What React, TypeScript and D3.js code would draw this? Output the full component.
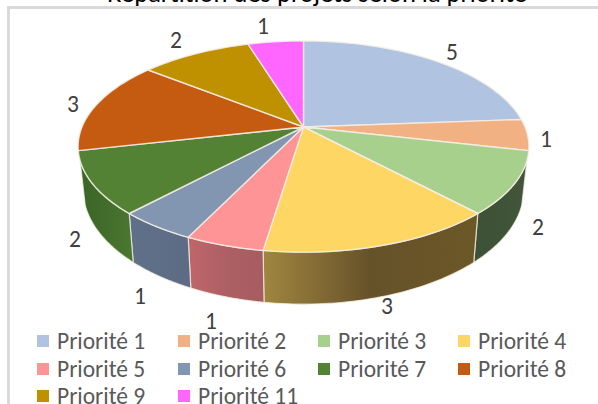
import React from "react";
import * as d3 from "d3";

const categories = ["Priorité 1","Priorité 2","Priorité 3","Priorité 4","Priorité 5","Priorité 6","Priorité 7","Priorité 8","Priorité 9","Priorité 11"];
const values = [5,1,2,3,1,1,2,3,2,1];
const topColors = ["#b0c4e2","#f2b183","#a8d08d","#fdd663","#ff9497","#8396b1","#548235","#c55a11","#bf9000","#ff66ff"];
const sideLeft = ["#7d8ba0","#ad7f5e","#3d5136","#a08640","#c0666a","#5f7088","#3b6526","#8c400c","#886600","#b548b5"];
const sideMid = ["#7d8ba0","#ad7f5e","#3f5338","#66522a","#ad6064","#5e6e86","#426c2a","#8c400c","#886600","#b548b5"];
const sideRight = ["#7d8ba0","#ad7f5e","#43563b","#6c5726","#a65c60","#5d6c84","#4a7630","#8c400c","#886600","#b548b5"];
const labelPos: [number, number][] = [[452,52],[546,139],[538,227],[387,306],[211,321],[140,296],[75,239],[73,104],[176,40],[263,26]];

const W = 598, H = 404;
const cx = 303.5, cy = 127, R = 221.5, S = 102, K = 0.185;
const FONT = "Carlito, 'Open Sans', 'Noto Sans', sans-serif";

const pie = d3.pie<number>().sort(null).value((d) => d)(values);
const toTop = (a: number): [number, number] => {
  const w = 1 + K * Math.cos(a);
  return [cx + (R * Math.sin(a)) / w, cy - (S * Math.cos(a)) / w];
};
const toBottom = (a: number): [number, number] => {
  const [x, y] = toTop(a);
  const dy = y - cy;
  return [cx + (x - cx) * 0.977, y + 42 + 0.08 * dy];
};
const samples = (a0: number, a1: number) => d3.range(0, 41).map((i) => a0 + ((a1 - a0) * i) / 40);
const line = d3.line();

const sideMin = (108 * Math.PI) / 180;
const sideMax = (252 * Math.PI) / 180;

const legendX = [37, 178, 318, 458];
const legendY = [341, 369, 396];

export default function App() {
  return (
    <svg width={W} height={H} style={{ position: "absolute", left: 0, top: 0, background: "#fff" }}>
      <defs>
        {pie.map((p, i) => {
          const a0 = Math.max(p.startAngle, sideMin);
          const a1 = Math.min(p.endAngle, sideMax);
          if (a1 <= a0) return null;
          const x0 = toTop(a0)[0], x1 = toTop(a1)[0];
          return (
            <linearGradient key={i} id={`side${i}`} gradientUnits="userSpaceOnUse" x1={Math.min(x0, x1)} x2={Math.max(x0, x1)} y1={0} y2={0}>
              <stop offset="0" stopColor={sideLeft[i]} />
              <stop offset="0.5" stopColor={sideMid[i]} />
              <stop offset="1" stopColor={sideRight[i]} />
            </linearGradient>
          );
        })}
      </defs>
      <rect x={8.5} y={7.5} width={W} height={H} fill="#fff" stroke="#d9d9d9" strokeWidth={3} />
      <text x={317} y={2} textAnchor="middle" fontFamily={FONT} fontSize={26.5} fill="#000">Répartition des projets selon la priorité</text>
      {pie.map((p, i) => {
        const a0 = Math.max(p.startAngle, sideMin);
        const a1 = Math.min(p.endAngle, sideMax);
        if (a1 <= a0) return null;
        const s = samples(a0, a1);
        const pts = [...s.map(toTop), ...s.slice().reverse().map(toBottom)];
        return <path key={i} d={line(pts)! + "Z"} fill={`url(#side${i})`} stroke="#f4f1e6" strokeWidth={1.2} strokeOpacity={0.75} />;
      })}
      {pie.map((p, i) => {
        const s = samples(p.startAngle, p.endAngle);
        const pts: [number, number][] = [[cx, cy], ...s.map(toTop)];
        return <path key={i} d={line(pts)! + "Z"} fill={topColors[i]} stroke="#f4efe6" strokeWidth={1.4} strokeOpacity={0.85} strokeLinejoin="round" />;
      })}
      {pie.map((p, i) => (
        <text key={i} x={labelPos[i][0]} y={labelPos[i][1]} dy="0.35em" textAnchor="middle" fontFamily={FONT} fontSize={23.5} fill="#404040">{values[i]}</text>
      ))}
      {categories.map((c, i) => {
        const col = i % 4, row = Math.floor(i / 4);
        const x = legendX[col], y = legendY[row];
        return (
          <g key={c}>
            <rect x={x} y={y - 6} width={12} height={12} fill={topColors[i]} />
            <text x={x + 20} y={y} dy="0.33em" fontFamily={FONT} fontSize={23.5} fill="#595959">{c}</text>
          </g>
        );
      })}
    </svg>
  );
}
